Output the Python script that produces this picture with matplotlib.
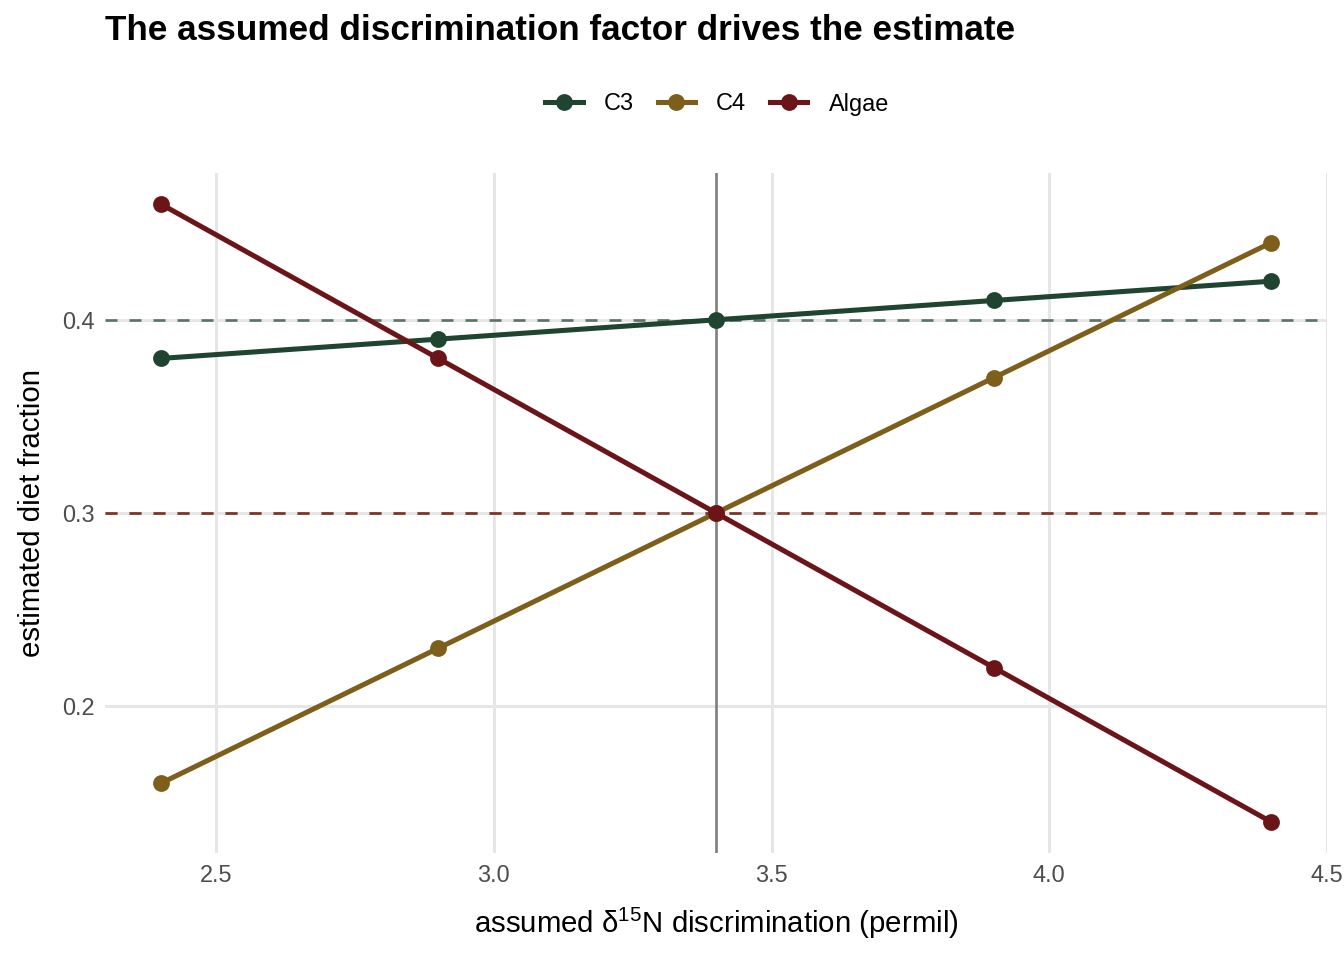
import numpy as np
import matplotlib.pyplot as plt

plt.rcParams['font.family'] = ['Liberation Sans', 'DejaVu Sans']

disc = [2.4, 2.9, 3.4, 3.9, 4.4]
sources = ['C3', 'C4', 'Algae']
c3 = [0.38, 0.39, 0.40, 0.41, 0.42]
c4 = [0.16, 0.23, 0.30, 0.37, 0.44]
algae = [0.46, 0.38, 0.30, 0.22, 0.14]
baseline_disc = 3.4
colors = ['#1f4530', '#7d5f1b', '#6b1519']

W, H = 1344, 960
fig = plt.figure(figsize=(7, 5), dpi=192)
ax = fig.add_axes([105/W, 1-853/H, (1327-105)/W, (853-173)/H])

ax.set_xlim(2.3, 4.5)
ax.set_ylim(0.124, 0.476)
ax.set_xticks([2.5, 3.0, 3.5, 4.0, 4.5])
ax.set_yticks([0.2, 0.3, 0.4])
ax.grid(True, color='#e6e6e6', linewidth=1.1)
ax.set_axisbelow(True)
for s in ax.spines.values():
    s.set_visible(False)
ax.tick_params(length=0, labelsize=8.8, labelcolor='#4d4d4d', pad=4)

series = [c3, c4, algae]
# dashed reference lines at each source's estimate under the baseline factor
i0 = disc.index(baseline_disc)
for vals, col in zip(series, colors):
    ax.axhline(vals[i0], color=col, linestyle=(0, (4.5, 4.5)), linewidth=1.0, alpha=0.7, zorder=1)
ax.axvline(baseline_disc, color='#7f7f7f', linewidth=1.0, zorder=1)

handles = []
for name, vals, col in zip(sources, series, colors):
    h, = ax.plot(disc, vals, color=col, linewidth=1.9, marker='o', markersize=5.3,
                 label=name, zorder=3)
    handles.append(h)

ax.set_xlabel(r'assumed $\mathregular{\delta^{15}}$N discrimination (permil)', fontsize=11, labelpad=7)
ax.set_ylabel('estimated diet fraction', fontsize=11, labelpad=6)

fig.text(105/W, 1-31/H, 'The assumed discrimination factor drives the estimate',
         fontsize=13.2, fontweight='bold', va='center', ha='left')

fig.legend(handles=handles, loc='center', bbox_to_anchor=(717/W, 1-104/H), ncol=3,
           frameon=False, fontsize=8.8, handlelength=1.6, handletextpad=0.9,
           columnspacing=1.0, borderaxespad=0)

fig.savefig('out.png', dpi=192)
